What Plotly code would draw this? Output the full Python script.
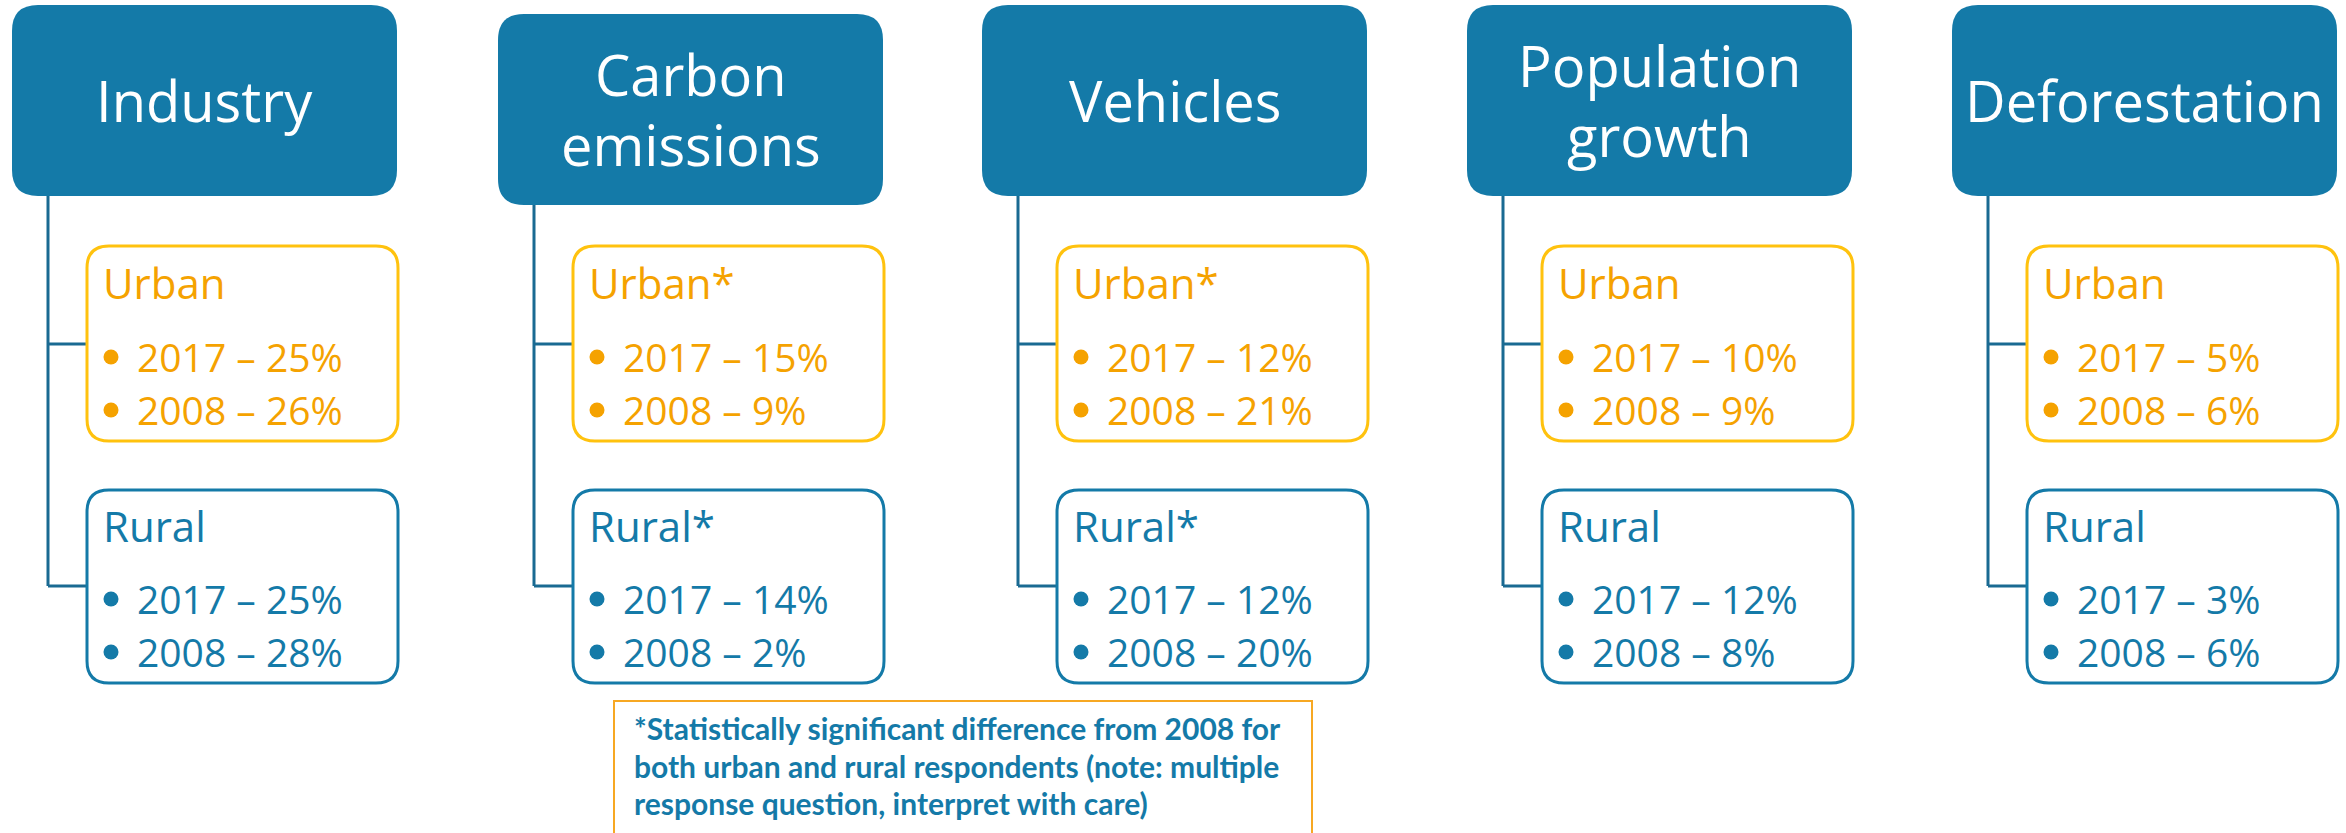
import plotly.graph_objects as go

# ---- data ----
categories = [["Industry"], ["Carbon", "emissions"], ["Vehicles"], ["Population", "growth"], ["Deforestation"]]
urban_2017 = [25, 15, 12, 10, 5]
urban_2008 = [26, 9, 21, 9, 6]
rural_2017 = [25, 14, 12, 12, 3]
rural_2008 = [28, 2, 20, 8, 6]
urban_sig = [False, True, True, False, False]
rural_sig = [False, True, True, False, False]
years = ["2017", "2008"]
footnote_lines = [
    "*Statistically significant difference from 2008 for",
    "both urban and rural respondents (note: multiple",
    "response question, interpret with care)",
]

W, H = 2346, 833
BLUE = "#147AA8"
LINE = "#1A6A92"
ORANGE_TXT = "#F5A200"
ORANGE_BRD = "#FFC20E"
FOOT_BRD = "#F7A823"

col_x = [12, 498, 982, 1467, 1952]
top_y = [(5, 196), (14, 205), (5, 196), (5, 196), (5, 196)]


def rrect(x0, y0, x1, y1, r):
    return (f"M{x0+r},{y0} L{x1-r},{y0} Q{x1},{y0} {x1},{y0+r} "
            f"L{x1},{y1-r} Q{x1},{y1} {x1-r},{y1} L{x0+r},{y1} "
            f"Q{x0},{y1} {x0},{y1-r} L{x0},{y0+r} Q{x0},{y0} {x0+r},{y0} Z")


fig = go.Figure()
shapes = []
ann = []
bullets = {"x": [], "y": [], "c": []}

TITLE_FS = 56
HEAD_FS = 42
ITEM_FS = 39

for i, title in enumerate(categories):
    x0 = col_x[i]
    ty0, ty1 = top_y[i]
    shapes.append(dict(type="path", path=rrect(x0, ty0, x0 + 385, ty1, 26),
                       fillcolor=BLUE, line=dict(width=0), layer="below"))
    cx = x0 + 192.5
    if len(title) == 1:
        ann.append(dict(x=cx, y=(ty0 + ty1) / 2 - 1, text=title[0], xanchor="center", yanchor="middle",
                        font=dict(family="Open Sans", size=TITLE_FS, color="white")))
    else:
        cy = (ty0 + ty1) / 2
        ann.append(dict(x=cx, y=cy - 36, text=title[0], xanchor="center", yanchor="middle",
                        font=dict(family="Open Sans", size=TITLE_FS, color="white")))
        ann.append(dict(x=cx, y=cy + 34, text=title[1], xanchor="center", yanchor="middle",
                        font=dict(family="Open Sans", size=TITLE_FS, color="white")))
    lx = x0 + 36
    shapes.append(dict(type="line", x0=lx, x1=lx, y0=ty1, y1=586, line=dict(color=LINE, width=3), layer="below"))
    shapes.append(dict(type="line", x0=lx, x1=x0 + 75, y0=344, y1=344, line=dict(color=LINE, width=3), layer="below"))
    shapes.append(dict(type="line", x0=lx, x1=x0 + 75, y0=586, y1=586, line=dict(color=LINE, width=3), layer="below"))
    shapes.append(dict(type="path", path=rrect(x0 + 75, 246, x0 + 386, 441, 22),
                       fillcolor="white", line=dict(color=ORANGE_BRD, width=3), layer="below"))
    shapes.append(dict(type="path", path=rrect(x0 + 75, 490, x0 + 386, 683, 22),
                       fillcolor="white", line=dict(color=BLUE, width=3), layer="below"))

    groups = [
        ("Urban" + ("*" if urban_sig[i] else ""), [urban_2017[i], urban_2008[i]], ORANGE_TXT, 282, [356, 409]),
        ("Rural" + ("*" if rural_sig[i] else ""), [rural_2017[i], rural_2008[i]], BLUE, 525, [598, 651]),
    ]
    for head, vals, col, hy, ly in groups:
        ann.append(dict(x=x0 + 89, y=hy, text=head, xanchor="left", yanchor="middle",
                        font=dict(family="Open Sans", size=HEAD_FS, color=col)))
        for yr, v, yy in zip(years, vals, ly):
            bullets["x"].append(x0 + 99)
            bullets["y"].append(yy + 1)
            bullets["c"].append(col)
            ann.append(dict(x=x0 + 123, y=yy, text=f"{yr} – {v}%", xanchor="left", yanchor="middle",
                            font=dict(family="Open Sans", size=ITEM_FS, color=col)))

fig.add_trace(go.Scatter(x=bullets["x"], y=bullets["y"], mode="markers",
                         marker=dict(size=15, color=bullets["c"], line=dict(width=0)),
                         hoverinfo="skip", showlegend=False))

shapes.append(dict(type="rect", x0=614, x1=1312, y0=701, y1=850,
                   fillcolor="white", line=dict(color=FOOT_BRD, width=2), layer="below"))
for k, t in enumerate(footnote_lines):
    ann.append(dict(x=632, y=728 + 37.5 * k, text=t, xanchor="left", yanchor="middle",
                    font=dict(family="Lato", size=30, color=BLUE, weight="bold")))

for a in ann:
    a.update(xref="x", yref="y", showarrow=False)

fig.update_layout(
    width=W, height=H, autosize=False,
    margin=dict(l=0, r=0, t=0, b=0),
    paper_bgcolor="white", plot_bgcolor="white",
    xaxis=dict(range=[0, W], visible=False, fixedrange=True),
    yaxis=dict(range=[H, 0], visible=False, fixedrange=True),
    shapes=shapes, annotations=ann, showlegend=False,
)

fig.write_html("out.html", config={"displayModeBar": False},
               post_script="document.body.style.margin='0px';")
